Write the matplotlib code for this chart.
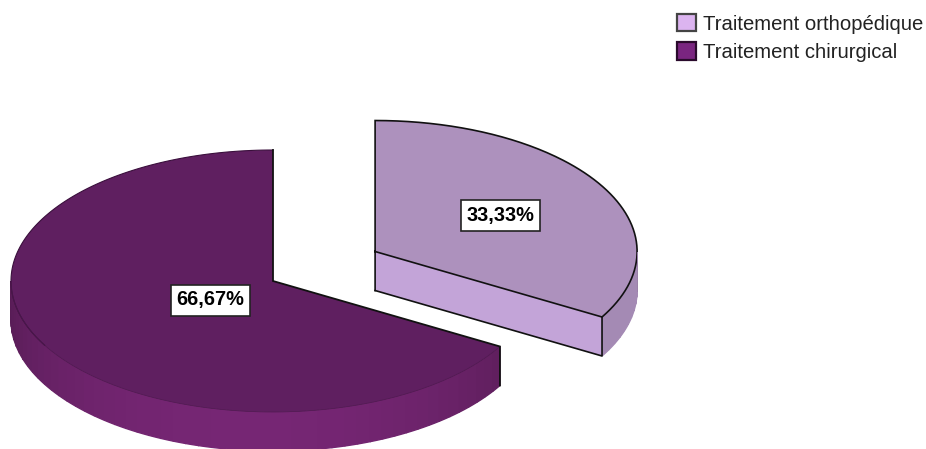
import numpy as np
import matplotlib
matplotlib.use('Agg')
import matplotlib.pyplot as plt
from matplotlib.patches import Patch

plt.rcParams['font.family'] = ['Liberation Sans', 'DejaVu Sans']

categories = ['Traitement orthopédique', 'Traitement chirurgical']
shares = [33.33, 66.67]
share_labels = ['33,33%', '66,67%']

RX, RY = 262., 131.
DEPTH = 39.


def pt(cx, cy, a):
    # a in degrees, counterclockwise from the right, on the flattened disc
    a = np.radians(a)
    return cx + RX*np.cos(a), cy - RY*np.sin(a)


def shade(base, f):
    return tuple(min(1., c*f) for c in matplotlib.colors.to_rgb(base))


def draw_rim(ax, cx, cy, a0, a1, color, fmin, fmax):
    # side of the disc, drawn in narrow strips so it looks lit from the front
    edges = np.linspace(a0, a1, int(abs(a1-a0)/3)+2)
    for s, e in zip(edges[:-1], edges[1:]):
        aa = np.linspace(s, e, 5)
        x, y = pt(cx, cy, aa)
        xs = np.r_[x, x[::-1]]
        ys = np.r_[y, y[::-1]+DEPTH]
        mid = np.radians((s+e)/2)
        f = fmin + (fmax-fmin)*max(0., np.cos(mid+np.pi/2+0.1))**1.2
        ax.fill(xs, ys, fc=shade(color, f), ec=shade(color, f), lw=1.0, zorder=2)


def draw_top(ax, cx, cy, a0, a1, color):
    aa = np.linspace(a0, a1, 200)
    x, y = pt(cx, cy, aa)
    ax.fill(np.r_[cx, x], np.r_[cy, y], color=color, lw=0, zorder=3)
    return x, y


fig = plt.figure(figsize=(9.26, 4.49), dpi=100)
ax = fig.add_axes([0, 0, 1, 1])
ax.set_xlim(0, 926)
ax.set_ylim(449, 0)
ax.axis('off')

span = [s/sum(shares)*360. for s in shares]
split = 90. - span[0]

# large slice, left in place
cx, cy = 273., 281.
draw_rim(ax, cx, cy, 180., 360.+split, '#762674', 0.72, 1.0)
x, y = draw_top(ax, cx, cy, 90., 90.+span[1], '#5f1f60')
ax.plot(x[x < cx+1][:100], y[x < cx+1][:100], color='#3a0f3c', lw=0.8, zorder=4)
ax.plot(x[(y > cy)], y[(y > cy)], color='#4f1a50', lw=0.5, zorder=4)
ex, ey = pt(cx, cy, split)
ax.plot([cx, cx, ex, ex], [y[0], cy, ey, ey+DEPTH], color='#111111', lw=1.3,
        zorder=5, solid_joinstyle='miter')

# small slice, pulled out along its bisector
explode = 0.45
mid = np.radians(90. - span[0]/2)
lx = cx + explode*RX*np.cos(mid)
ly = cy - explode*RY*np.sin(mid)
draw_rim(ax, lx, ly, split, 0., '#ad91bd', 0.95, 0.95)
fx, fy = pt(lx, ly, split)
ax.fill([lx, fx, fx, lx], [ly, fy, fy+DEPTH, ly+DEPTH], color='#c3a4d8', lw=0, zorder=3)
x, y = draw_top(ax, lx, ly, split, 90., '#ad91bd')
ax.plot(np.r_[lx, fx, x, lx, lx], np.r_[ly, fy, y, ly, ly+DEPTH], color='#111111', lw=1.2,
        zorder=5, solid_joinstyle='miter')
ax.plot([lx, fx, fx], [ly+DEPTH, fy+DEPTH, fy], color='#111111', lw=1.2, zorder=5)
rx_, ry_ = pt(lx, ly, 0.)
ax.plot([rx_, rx_], [ry_, ry_+DEPTH], color='#9a82a8', lw=0.7, zorder=5)

box = dict(boxstyle='square,pad=0.3', fc='white', ec='#222222', lw=1.2)
ax.text(500.5, 215, share_labels[0], ha='center', va='center', fontsize=14.4,
        fontweight='bold', color='black', bbox=box, zorder=6)
ax.text(210.5, 300, share_labels[1], ha='center', va='center', fontsize=14.4,
        fontweight='bold', color='black', bbox=box, zorder=6)

handles = [Patch(fc='#dcb4f0', ec='#444444', lw=1.6), Patch(fc='#7a2580', ec='#2a0a2c', lw=1.6)]
ax.legend(handles, categories, loc='upper left', bbox_to_anchor=(677/926, 1-14/449),
          frameon=False, fontsize=14.6, handlelength=0.95, handleheight=0.95,
          handletextpad=0.32, labelspacing=0.42, borderpad=0, borderaxespad=0,
          labelcolor='#222222')

plt.savefig('out.png', dpi=100)
